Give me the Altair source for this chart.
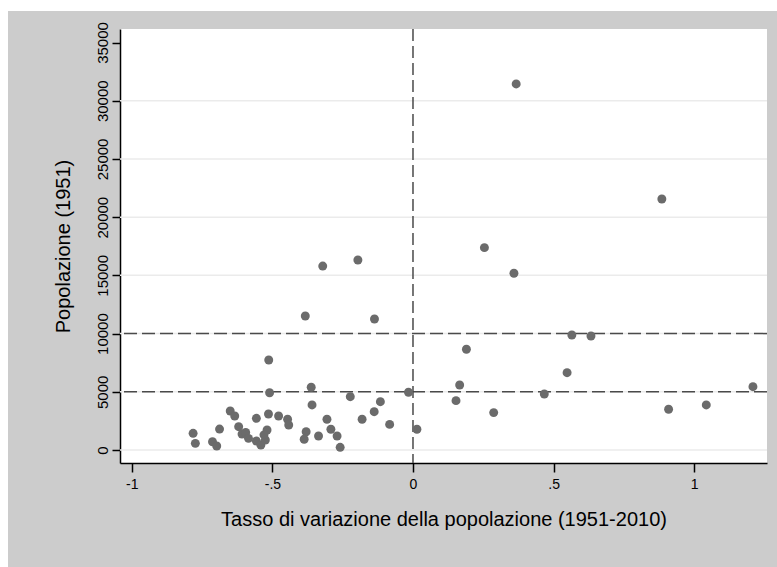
import altair as alt
import pandas as pd

# Data
tasso = [-0.782, -0.774, -0.713, -0.698, -0.688, -0.650, -0.634, -0.620, -0.608, -0.595,
         -0.585, -0.557, -0.541, -0.557, -0.519, -0.525, -0.530, -0.514, -0.478, -0.446,
         -0.442, -0.513, -0.510, -0.383, -0.362, -0.359, -0.380, -0.387, -0.336, -0.321,
         -0.306, -0.292, -0.270, -0.259, -0.223, -0.196, -0.181, -0.138, -0.137, -0.116,
         -0.083, -0.016, 0.014, 0.153, 0.166, 0.190, 0.254, 0.287, 0.359, 0.367,
         0.467, 0.548, 0.565, 0.633, 0.885, 0.909, 1.043, 1.209]
popolazione = [1430, 570, 710, 340, 1800, 3350, 2920, 2000, 1370, 1500,
               1000, 770, 430, 2720, 1720, 860, 1300, 3090, 2920, 2640,
               2150, 7730, 4920, 11510, 5390, 3870, 1570, 920, 1200, 15800,
               2640, 1780, 1200, 230, 4580, 16320, 2640, 3290, 11250, 4150,
               2200, 4960, 1780, 4240, 5580, 8650, 17380, 3210, 15180, 31440,
               4810, 6640, 9880, 9790, 21560, 3500, 3870, 5440]

x_ticks = [-1, -0.5, 0, 0.5, 1]
x_tick_labels = ["-1", "-.5", "0", ".5", "1"]
y_ticks = [0, 5000, 10000, 15000, 20000, 25000, 30000, 35000]
grid_values = [0, 5000, 10000, 15000, 20000, 25000, 30000]
h_ref = [5000, 10000]
v_ref = [0]

x_title = "Tasso di variazione della popolazione (1951-2010)"
y_title = "Popolazione (1951)"

df = pd.DataFrame({"tasso": tasso, "pop": popolazione})
grid_df = pd.DataFrame({"pop": grid_values})
href_df = pd.DataFrame({"pop": h_ref})
vref_df = pd.DataFrame({"tasso": v_ref})

label_expr = " : ".join(
    f"datum.value == {v} ? '{l}'" for v, l in zip(x_ticks, x_tick_labels)
) + " : ''"

FONT = "Liberation Sans"
xscale = alt.Scale(domain=[-1.042, 1.259], nice=False, zero=False)
yscale = alt.Scale(domain=[-1117, 36160], nice=False, zero=False)

xaxis = alt.Axis(values=x_ticks, labelExpr=label_expr, title=x_title, grid=False,
                 domainColor="black", domainWidth=1.5, tickColor="black", tickWidth=1.5,
                 tickSize=9, labelFont=FONT, labelFontSize=14, labelColor="black",
                 labelPadding=5, titleFont=FONT, titleFontSize=20, titleFontWeight="normal",
                 titleColor="black", titlePadding=18)
yaxis = alt.Axis(values=y_ticks, format="d", title=y_title, grid=False,
                 domainColor="black", domainWidth=1.5, tickColor="black", tickWidth=1.5,
                 tickSize=8, labelFont=FONT, labelFontSize=15, labelColor="black",
                 labelAngle=-90, labelAlign="center", labelBaseline="bottom",
                 labelPadding=2, titleFont=FONT, titleFontSize=20, titleFontWeight="normal",
                 titleColor="black", titlePadding=22)

X = alt.X("tasso:Q", scale=xscale, axis=xaxis)
Y = alt.Y("pop:Q", scale=yscale, axis=yaxis)

grid = alt.Chart(grid_df).mark_rule(color="#ebebeb", strokeWidth=1.5).encode(y=Y)
href = alt.Chart(href_df).mark_rule(color="#4a4a4a", strokeWidth=1.5, strokeDash=[13, 5]).encode(y=Y)
vref = alt.Chart(vref_df).mark_rule(color="#4a4a4a", strokeWidth=1.5, strokeDash=[12, 5]).encode(x=X)
points = alt.Chart(df).mark_circle(color="#6b6b6b", opacity=1, size=80).encode(x=X, y=Y)

# white frame strips of the outer page (top and left)
strip_top = alt.Chart(pd.DataFrame({"k": [0]})).mark_rect(color="white", clip=False).encode(
    x=alt.value(-120), x2=alt.value(657), y=alt.value(-29), y2=alt.value(-18)
)
strip_left = alt.Chart(pd.DataFrame({"k": [0]})).mark_rect(color="white", clip=False).encode(
    x=alt.value(-120), x2=alt.value(-112), y=alt.value(-29), y2=alt.value(538)
)

chart = alt.layer(strip_top, strip_left, grid, href, vref, points).properties(
    width=647, height=434,
    autosize=alt.AutoSizeParams(type="none"),
    padding={"left": 120, "top": 29, "right": 10, "bottom": 104},
    background="#cccccc",
).configure_view(fill="white", stroke=None)

chart.save("out.html", embed_options={"renderer": "svg", "actions": False})
